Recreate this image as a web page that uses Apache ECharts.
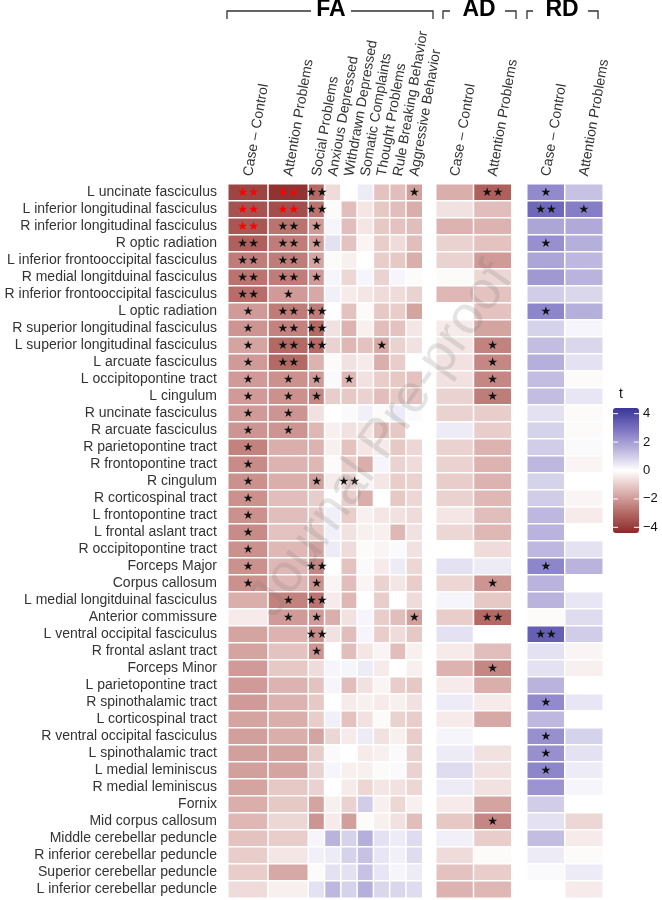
<!DOCTYPE html>
<html><head><meta charset="utf-8">
<script src="https://cdn.jsdelivr.net/npm/echarts@6/dist/echarts.min.js"></script>
<style>html,body{margin:0;padding:0;background:#fff}#c{width:662px;height:900px}</style>
</head><body><div id="c"></div>
<script>
const tracts = ["L uncinate fasciculus","L inferior longitudinal fasciculus","R inferior longitudinal fasciculus","R optic radiation","L inferior frontooccipital fasciculus","R medial longitduinal fasciculus","R inferior frontooccipital fasciculus","L optic radiation","R superior longitudinal fasciculus","L superior longitudinal fasciculus","L arcuate fasciculus","L occipitopontine tract","L cingulum","R uncinate fasciculus","R arcuate fasciculus","R parietopontine tract","R frontopontine tract","R cingulum","R corticospinal tract","L frontopontine tract","L frontal aslant tract","R occipitopontine tract","Forceps Major","Corpus callosum","L medial longitduinal fasciculus","Anterior commissure","L ventral occipital fasciculus","R frontal aslant tract","Forceps Minor","L parietopontine tract","R spinothalamic tract","L corticospinal tract","R ventral occipital fasciculus","L spinothalamic tract","L medial leminiscus","R medial leminiscus","Fornix","Mid corpus callosum","Middle cerebellar peduncle","R inferior cerebellar peduncle","Superior cerebellar peduncle","L inferior cerebellar peduncle"];

const faMainColumns = ["Case – Control","Attention Problems"];
const faBehaviorColumns = ["Social Problems","Anxious Depressed","Withdrawn Depressed","Somatic Complaints","Thought Problems","Rule Breaking Behavior","Aggressive Behavior"];
const adColumns = ["Case – Control","Attention Problems"];
const rdColumns = ["Case – Control","Attention Problems"];
const groupTitles = ["FA","AD","RD"];
const legendTitle = "t";
const legendTicks = [4,2,0,-2,-4];
const legendTickLabels = ["4","2","0","\u22122","\u22124"];

// t values (rows in order of tracts)
const faCaseControl = [-3.8,-3.5,-3.4,-3.2,-2.6,-2.8,-2.9,-2.0,-2.1,-1.8,-2.0,-2.0,-2.0,-2.0,-2.1,-2.5,-2.3,-2.2,-2.2,-2.2,-2.3,-2.2,-2.2,-2.2,-1.6,-0.4,-1.8,-1.8,-2.0,-2.0,-2.0,-1.8,-1.9,-1.9,-1.9,-1.8,-1.6,-1.4,-1.2,-1.0,-1.0,-0.7];
const faAttention = [-4.2,-3.6,-2.8,-2.6,-2.6,-2.6,-2.0,-2.6,-2.5,-3.0,-3.0,-2.2,-2.2,-2.1,-2.1,-1.6,-1.5,-1.6,-1.3,-1.3,-1.2,-1.4,-1.4,-1.4,-2.5,-2.0,-1.5,-1.2,-1.1,-1.5,-1.5,-1.6,-1.6,-1.8,-1.8,-1.1,-1.1,-0.8,-1.0,-0.5,-1.7,-0.3];
const faSocial = [-3.0,-2.8,-2.0,-2.0,-1.8,-2.0,-1.7,-2.6,-3.0,-3.0,-1.5,-2.0,-2.4,-0.6,-1.4,-1.5,-1.4,-1.9,-1.0,-1.0,-1.1,-1.8,-2.4,-2.2,-2.8,-2.0,-2.3,-2.1,-0.7,-1.2,-1.1,-1.0,-1.8,-1.0,-0.9,-0.9,-1.8,-2.1,0.2,0.3,-0.1,0.6];
const faAnxious = [-0.7,-0.1,0.2,0.6,-0.1,0.2,0.3,0.0,-0.6,-0.9,-0.1,0.1,-1.0,0.0,-0.3,-0.3,-0.1,-0.4,0.0,0.3,0.3,0.4,0.0,-0.2,-0.4,-1.6,-0.6,0.0,0.2,0.2,0.0,0.3,-0.8,0.1,0.2,0.0,-0.3,-0.4,1.5,0.4,0.6,1.4];
const faWithdrawn = [0.0,-1.3,-1.3,-1.2,-0.3,-0.8,-0.4,-1.2,-1.5,-1.4,-0.6,-1.4,-1.1,0.1,-0.6,-1.2,-1.0,-0.9,-1.0,-1.0,-0.6,-0.7,-1.2,-1.3,-1.4,-0.6,-1.3,-1.3,0.2,-1.3,-0.4,-1.2,-0.4,0.0,-0.3,-0.4,-0.9,-1.9,0.9,0.9,0.6,0.9];
const faSomatic = [0.4,-0.5,-0.5,-0.2,0.0,0.2,-0.5,-0.1,-0.3,-1.2,-0.4,-0.6,-0.9,0.3,-0.5,-0.5,-1.6,-0.2,-1.6,-0.3,-0.3,-0.1,0.1,-0.2,0.0,0.2,0.2,-0.5,0.4,-0.6,-0.3,-0.6,0.4,-0.4,-0.3,-0.8,1.0,-0.1,1.6,1.2,1.2,1.6];
const faThought = [-1.2,-1.1,-1.1,-1.0,-1.0,-0.9,-0.7,-1.1,-1.3,-1.7,-1.6,-1.0,-1.3,-0.1,-1.3,-0.4,0.2,-0.5,0.0,-0.5,-0.3,-0.2,-0.4,-0.9,-1.0,-1.0,-1.0,-0.2,-0.4,-0.2,-0.4,-0.1,-0.6,-0.3,-0.1,-0.5,-0.3,-0.3,0.6,0.5,0.5,0.8];
const faRuleBreaking = [-1.3,-1.3,-1.2,-0.7,-1.1,0.2,-0.7,-1.0,-1.2,-0.9,-1.0,-1.1,-1.1,0.4,-1.1,-1.1,-0.9,-1.0,-1.1,-0.6,-1.4,0.1,0.4,-0.5,0.0,-1.3,-0.7,-1.3,0.0,-1.0,-0.3,-0.9,-0.3,0.1,0.1,-0.6,-0.8,-0.6,0.4,0.3,0.2,0.8];
const faAggressive = [-1.9,-1.6,-1.3,-1.3,-1.6,-0.1,-0.9,-1.8,-0.5,-0.6,0.0,-1.2,-1.2,0.1,0.0,-0.8,-0.7,-0.9,-0.8,-0.7,-0.6,-0.6,-0.8,-1.0,-0.7,-1.9,-1.1,-0.3,-0.3,-1.1,-0.6,-1.0,-1.0,-0.9,-0.9,-0.8,-0.3,-1.3,0.7,0.7,0.4,0.7];
const adCaseControl = [-1.6,-0.6,-1.5,-0.9,-0.9,-0.1,-1.4,0.0,-0.4,-0.5,-0.6,-0.6,-0.9,-0.9,0.4,-0.9,-0.9,-1.0,-0.9,-0.5,-0.8,0.0,0.6,-0.8,0.2,-1.0,0.6,-0.4,-1.5,-0.4,0.4,-0.4,0.2,0.4,0.7,0.4,-0.4,-1.1,0.3,-0.7,-1.2,-1.5];
const adAttention = [-3.2,-1.3,-1.5,-1.2,-2.0,-0.8,-1.2,-1.2,-1.8,-2.5,-2.4,-2.4,-2.6,-1.0,-1.0,-1.5,-1.5,-1.5,-1.4,-1.3,-1.4,-0.7,0.4,-2.1,-1.1,-3.0,0.0,-1.3,-2.4,-1.6,-0.4,-1.7,0.0,-0.6,-0.6,-0.6,-1.8,-2.4,-1.0,-0.1,-1.0,-1.4];
const rdCaseControl = [2.4,3.2,1.8,2.3,1.8,2.1,1.0,2.5,0.9,1.3,1.6,1.3,1.3,0.6,0.9,1.0,1.4,0.9,1.0,1.4,1.5,1.4,2.5,1.5,1.5,-0.1,3.4,0.6,0.6,1.5,2.4,1.4,2.3,2.3,2.5,2.2,1.0,0.6,1.3,0.4,0.1,0.0];
const rdAttention = [1.2,2.7,1.7,1.6,1.4,1.5,0.8,1.6,0.2,0.8,0.6,-0.1,0.5,-0.1,-0.1,0.1,-0.2,0.0,-0.2,-0.4,0.0,0.6,1.5,0.0,0.5,0.7,1.0,-0.2,-0.3,0.0,0.5,0.0,0.9,0.6,0.4,0.2,0.0,-0.8,-0.4,-0.1,0.4,-0.4];

// significance: 0 none, 1 "*", 2 "**", 3 "**" highlighted in red
const faCaseControlSig = [3,3,3,2,2,2,2,1,1,1,1,1,1,1,1,1,1,1,1,1,1,1,1,1,0,0,0,0,0,0,0,0,0,0,0,0,0,0,0,0,0,0];
const faAttentionSig = [3,3,2,2,2,2,1,2,2,2,2,1,1,1,1,0,0,0,0,0,0,0,0,0,1,1,0,0,0,0,0,0,0,0,0,0,0,0,0,0,0,0];
const faSocialSig = [2,2,1,1,1,1,0,2,2,2,0,1,1,0,0,0,0,1,0,0,0,0,2,1,2,1,2,1,0,0,0,0,0,0,0,0,0,0,0,0,0,0];
const faAnxiousSig = [0,0,0,0,0,0,0,0,0,0,0,0,0,0,0,0,0,0,0,0,0,0,0,0,0,0,0,0,0,0,0,0,0,0,0,0,0,0,0,0,0,0];
const faWithdrawnSig = [0,0,0,0,0,0,0,0,0,0,0,1,0,0,0,0,0,2,0,0,0,0,0,0,0,0,0,0,0,0,0,0,0,0,0,0,0,0,0,0,0,0];
const faSomaticSig = [0,0,0,0,0,0,0,0,0,0,0,0,0,0,0,0,0,0,0,0,0,0,0,0,0,0,0,0,0,0,0,0,0,0,0,0,0,0,0,0,0,0];
const faThoughtSig = [0,0,0,0,0,0,0,0,0,1,0,0,0,0,0,0,0,0,0,0,0,0,0,0,0,0,0,0,0,0,0,0,0,0,0,0,0,0,0,0,0,0];
const faRuleBreakingSig = [0,0,0,0,0,0,0,0,0,0,0,0,0,0,0,0,0,0,0,0,0,0,0,0,0,0,0,0,0,0,0,0,0,0,0,0,0,0,0,0,0,0];
const faAggressiveSig = [1,0,0,0,0,0,0,0,0,0,0,0,0,0,0,0,0,0,0,0,0,0,0,0,0,1,0,0,0,0,0,0,0,0,0,0,0,0,0,0,0,0];
const adCaseControlSig = [0,0,0,0,0,0,0,0,0,0,0,0,0,0,0,0,0,0,0,0,0,0,0,0,0,0,0,0,0,0,0,0,0,0,0,0,0,0,0,0,0,0];
const adAttentionSig = [2,0,0,0,0,0,0,0,0,1,1,1,1,0,0,0,0,0,0,0,0,0,0,1,0,2,0,0,1,0,0,0,0,0,0,0,0,1,0,0,0,0];
const rdCaseControlSig = [1,2,0,1,0,0,0,1,0,0,0,0,0,0,0,0,0,0,0,0,0,0,1,0,0,0,2,0,0,0,1,0,1,1,1,0,0,0,0,0,0,0];
const rdAttentionSig = [0,1,0,0,0,0,0,0,0,0,0,0,0,0,0,0,0,0,0,0,0,0,0,0,0,0,0,0,0,0,0,0,0,0,0,0,0,0,0,0,0,0];

const tMin = -4.4, tMax = 4.4;
const palette = ['#8a2a2a','#b66c68','#ddb5b2','#ffffff','#bbb5de','#7b72c1','#3a3598'];

const panels = [
  {cols: faMainColumns, values: [faCaseControl, faAttention], sig: [faCaseControlSig, faAttentionSig], left: 228, width: 80.5},
  {cols: faBehaviorColumns, values: [faSocial, faAnxious, faWithdrawn, faSomatic, faThought, faRuleBreaking, faAggressive],
   sig: [faSocialSig, faAnxiousSig, faWithdrawnSig, faSomaticSig, faThoughtSig, faRuleBreakingSig, faAggressiveSig], left: 308.5, width: 114},
  {cols: adColumns, values: [adCaseControl, adAttention], sig: [adCaseControlSig, adAttentionSig], left: 436, width: 75.5},
  {cols: rdColumns, values: [rdCaseControl, rdAttention], sig: [rdCaseControlSig, rdAttentionSig], left: 527, width: 76}
];
const gridTop = 184, gridHeight = 714;
const FONT = "'Liberation Sans', Arial, Helvetica, sans-serif";
const txtColor = '#333333';

function cellData(p) {
  const out = [];
  p.values.forEach((col, ci) => col.forEach((v, ri) => out.push([ci, ri, v, p.sig[ci][ri]])));
  return out;
}
function starFormatter(params) {
  const s = params.data[3];
  if (!s) return '';
  if (s === 3) return '{r|\u2605\u2605}';
  return '{k|' + '\u2605'.repeat(s) + '}';
}

// legend geometry
const lgLeft = 613, lgTop = 408, lgW = 26, lgH = 125;
const yOf = v => lgTop + (tMax - v) / (tMax - tMin) * lgH;

const graphic = [];
const lineStyle = {stroke: '#333', lineWidth: 1.3, fill: null};
const brackets = [
  [[227,19],[227,11],[311,11]], [[351,11],[433,11],[433,19]],
  [[443,19],[443,11],[450,11]], [[505,11],[516,11],[516,19]],
  [[527,19],[527,11],[533,11]], [[588,11],[598,11],[598,19]]
];
brackets.forEach(pts => graphic.push({type: 'polyline', shape: {points: pts}, style: lineStyle, silent: true}));
const headerX = [331, 479, 562];
groupTitles.forEach((t, i) => graphic.push({type: 'text', x: headerX[i], y: 10, style: {text: t, fontSize: 23, fontWeight: 'bold', fontFamily: FONT, fill: '#000', align: 'center', verticalAlign: 'middle'}}));
graphic.push({type: 'text', x: lgLeft + 6, y: 394, style: {text: legendTitle, fontSize: 14, fontFamily: FONT, fill: '#111', align: 'left', verticalAlign: 'middle'}});
legendTicks.forEach((v, i) => {
  const y = yOf(v);
  graphic.push({type: 'text', x: lgLeft + lgW + 4, y: y, style: {text: legendTickLabels[i], fontSize: 13, fontFamily: FONT, fill: '#111', align: 'left', verticalAlign: 'middle'}});
  graphic.push({type: 'line', shape: {x1: lgLeft, y1: y, x2: lgLeft + 5, y2: y}, style: {stroke: '#fff', lineWidth: 1}, z: 20});
  graphic.push({type: 'line', shape: {x1: lgLeft + lgW - 5, y1: y, x2: lgLeft + lgW, y2: y}, style: {stroke: '#fff', lineWidth: 1}, z: 20});
});
graphic.push({type: 'text', x: 382, y: 440, rotation: 55 * Math.PI / 180, z: 100, silent: true,
  style: {text: 'Journal Pre-proof', fontSize: 54, fontFamily: FONT, fill: 'rgba(120,120,120,0.2)', align: 'center', verticalAlign: 'middle'}});

const option = {
  animation: false,
  backgroundColor: '#fff',
  textStyle: {fontFamily: FONT},
  grid: panels.map(p => ({left: p.left, top: gridTop, width: p.width, height: gridHeight})),
  xAxis: panels.map((p, i) => ({
    type: 'category', gridIndex: i, position: 'top', data: p.cols,
    axisLine: {show: false}, axisTick: {show: false}, splitLine: {show: false},
    axisLabel: {interval: 0, rotate: -80, margin: 8, fontSize: 14, color: txtColor, fontFamily: FONT}
  })),
  yAxis: panels.map((p, i) => ({
    type: 'category', gridIndex: i, inverse: true, data: tracts,
    axisLine: {show: false}, axisTick: {show: false}, splitLine: {show: false},
    axisLabel: {show: i === 0, interval: 0, margin: 11, fontSize: 14, color: txtColor, fontFamily: FONT}
  })),
  visualMap: {
    type: 'continuous', min: tMin, max: tMax, dimension: 2, seriesIndex: [0,1,2,3],
    calculable: false, left: lgLeft, top: lgTop, itemWidth: lgW, itemHeight: lgH, padding: 0,
    inRange: {color: palette}, text: null, hoverLink: false
  },
  series: panels.map((p, i) => ({
    type: 'heatmap', xAxisIndex: i, yAxisIndex: i, data: cellData(p),
    itemStyle: {borderColor: '#fff', borderWidth: 1.5},
    emphasis: {disabled: true},
    label: {show: true, formatter: starFormatter,
      rich: {k: {color: '#111', fontSize: 12, fontFamily: 'DejaVu Sans'}, r: {color: '#ff0000', fontSize: 12, fontFamily: 'DejaVu Sans'}}}
  })),
  graphic: graphic
};
const chart = echarts.init(document.getElementById('c'), null, {renderer: 'canvas'});
chart.setOption(option);
</script></body></html>
